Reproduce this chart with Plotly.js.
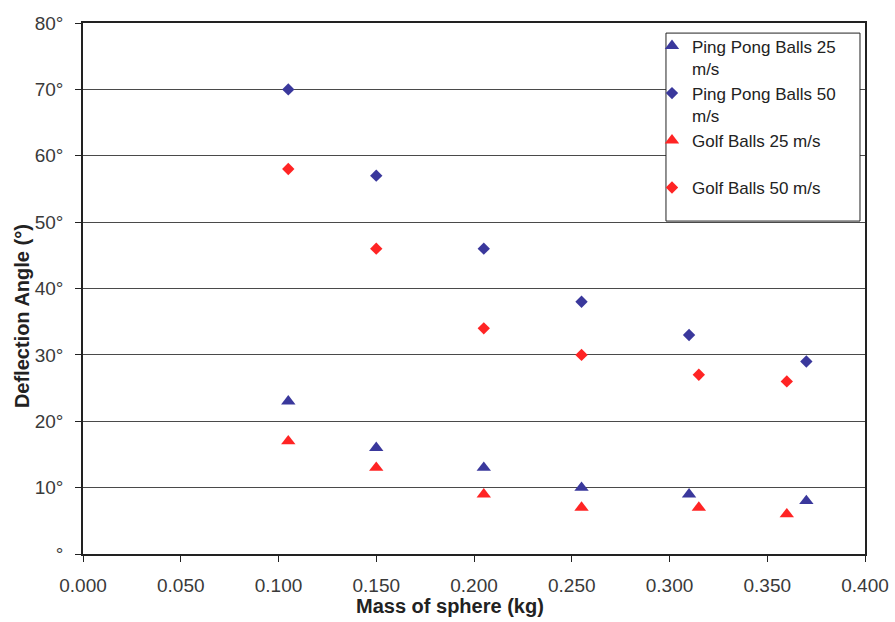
<!DOCTYPE html>
<html><head><meta charset="utf-8">
<script src="https://cdn.plot.ly/plotly-3.0.1.min.js"></script>
<style>body{margin:0;background:#fff}#c{width:895px;height:622px}</style>
</head><body><div id="c"></div>
<script>
const ppMass25 = [0.105, 0.150, 0.205, 0.255, 0.310, 0.370];
const ppAngle25 = [23, 16, 13, 10, 9, 8];
const ppMass50 = [0.105, 0.150, 0.205, 0.255, 0.310, 0.370];
const ppAngle50 = [70, 57, 46, 38, 33, 29];
const golfMass25 = [0.105, 0.150, 0.205, 0.255, 0.315, 0.360];
const golfAngle25 = [17, 13, 9, 7, 7, 6];
const golfMass50 = [0.105, 0.150, 0.205, 0.255, 0.315, 0.360];
const golfAngle50 = [58, 46, 34, 30, 27, 26];
const yTickVals = [0, 10, 20, 30, 40, 50, 60, 70, 80];
const yTickText = ['°', '10°', '20°', '30°', '40°', '50°', '60°', '70°', '80°'];
const xTickVals = [0, 0.05, 0.1, 0.15, 0.2, 0.25, 0.3, 0.35, 0.4];
const xTickText = ['0.000', '0.050', '0.100', '0.150', '0.200', '0.250', '0.300', '0.350', '0.400'];

const blue = '#3a389c';
const red = '#ff2424';
const traces = [
  {x: ppMass25, y: ppAngle25, name: 'Ping Pong Balls 25<br>m/s', mode: 'markers', type: 'scatter',
   marker: {symbol: 'triangle-up', size: 12.5, color: blue}},
  {x: ppMass50, y: ppAngle50, name: 'Ping Pong Balls 50<br>m/s', mode: 'markers', type: 'scatter',
   marker: {symbol: 'diamond', size: 9.5, color: blue}},
  {x: golfMass25, y: golfAngle25, name: 'Golf Balls 25 m/s<br> ', mode: 'markers', type: 'scatter',
   marker: {symbol: 'triangle-up', size: 12.5, color: red}},
  {x: golfMass50, y: golfAngle50, name: 'Golf Balls 50 m/s<br> ', mode: 'markers', type: 'scatter',
   marker: {symbol: 'diamond', size: 9.5, color: red}}
];
const layout = {
  width: 895, height: 622,
  margin: {l: 83, r: 30, t: 23, b: 68},
  paper_bgcolor: '#fff', plot_bgcolor: '#fff',
  font: {family: 'Liberation Sans, Arial, sans-serif', color: '#3a3a3a', size: 19},
  xaxis: {range: [0, 0.4], tickvals: xTickVals, ticktext: xTickText,
    showgrid: false, zeroline: false, showline: true, linecolor: '#222', linewidth: 1.5, mirror: true,
    ticks: 'outside', ticklen: 6, tickcolor: '#222', ticklabelstandoff: 7},
  yaxis: {range: [0, 80], tickvals: yTickVals, ticktext: yTickText,
    showgrid: true, gridcolor: '#4a4a4a', gridwidth: 1, zeroline: false,
    showline: true, linecolor: '#222', linewidth: 1.5, mirror: true,
    ticks: 'outside', ticklen: 6, tickcolor: '#222', ticklabelstandoff: 8},
  annotations: [
    {text: '<b>Mass of sphere (kg)</b>', xref: 'paper', yref: 'paper', x: 0.469, y: -0.098,
     xanchor: 'center', yanchor: 'middle', showarrow: false, font: {size: 20, color: '#222'}},
    {text: '<b>Deflection Angle (°)</b>', xref: 'paper', yref: 'paper', x: -0.078, y: 0.448,
     xanchor: 'center', yanchor: 'middle', showarrow: false, textangle: -90, font: {size: 20, color: '#222'}}
  ],
  shapes: [
    {type: 'rect', xref: 'paper', yref: 'paper', x0: 0.7455, x1: 0.9936, y0: 0.627, y1: 0.981,
     fillcolor: '#fff', line: {color: '#222', width: 1}, layer: 'above'}
  ],
  legend: {x: 0.7276, y: 0.99, xanchor: 'left', yanchor: 'top', bgcolor: 'rgba(0,0,0,0)',
    borderwidth: 0, valign: 'top', tracegroupgap: 0,
    font: {size: 17, color: '#222'}, itemwidth: 30},
  showlegend: true
};
Plotly.newPlot('c', traces, layout, {displayModeBar: false});
</script></body></html>
